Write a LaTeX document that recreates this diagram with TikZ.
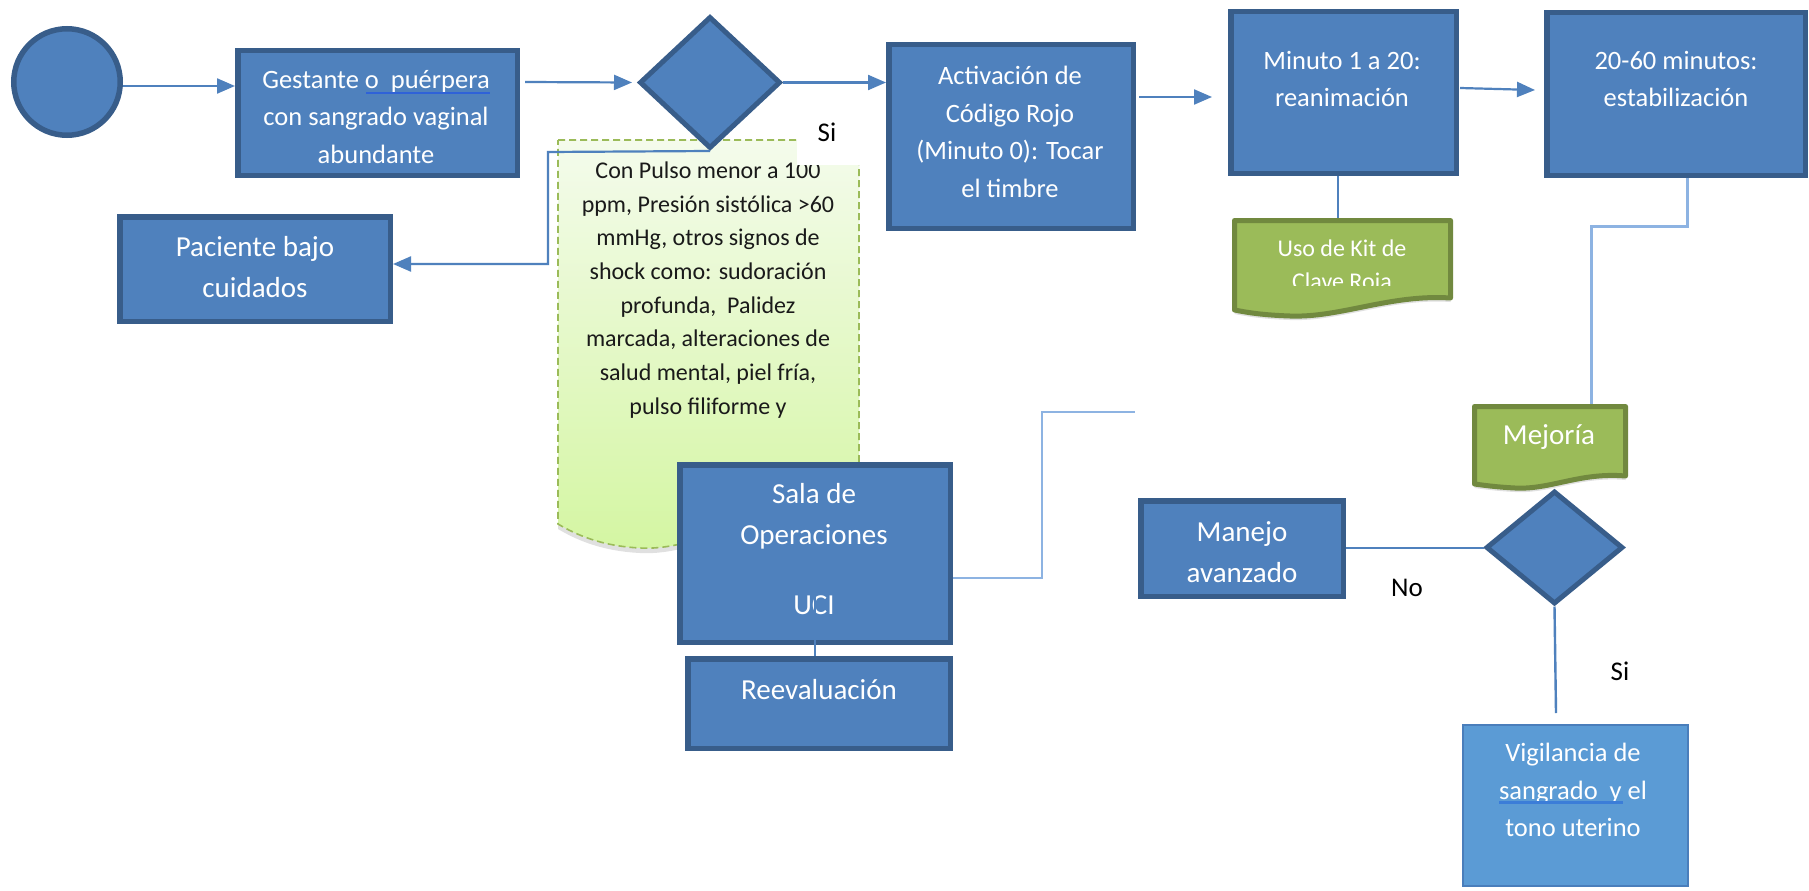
\documentclass[tikz,border=0pt]{standalone}
\usepackage{fontspec}
\setmainfont{Carlito}
\usetikzlibrary{shapes.geometric,arrows.meta,calc}
\definecolor{boxfill}{HTML}{4F81BD}
\definecolor{boxline}{HTML}{385D8A}
\definecolor{docfill}{HTML}{9BBB59}
\definecolor{docline}{HTML}{71893F}
\definecolor{vigfill}{HTML}{5B9BD5}
\definecolor{vigline}{HTML}{4A7EBB}
\definecolor{wire}{HTML}{4F81BD}
\definecolor{wirelight}{HTML}{8DB3E2}
\definecolor{notetop}{HTML}{F4FBEC}
\definecolor{notebot}{HTML}{D4F6A2}
\definecolor{noteline}{HTML}{9BBB59}
\definecolor{notetext}{HTML}{1A1A1A}
\definecolor{squiggle}{HTML}{2F62D8}

\begin{document}
\begin{tikzpicture}[x=1pt,y=-1pt,
  txt/.style={font=\fontsize{26.5}{37.5}\selectfont, text=white, align=center, inner sep=0pt},
  bigtxt/.style={font=\fontsize{29}{41}\selectfont, text=white, align=center, inner sep=0pt},
  kittxt/.style={font=\fontsize{24}{33}\selectfont, text=white, align=center, inner sep=0pt},
  notetxt/.style={font=\fontsize{24}{33.7}\selectfont, text=notetext, align=center, inner sep=0pt},
  yesno/.style={font=\fontsize{27}{32}\selectfont, text=black, inner sep=0pt},
  bluebox/.style={rectangle, draw=boxline, fill=boxfill, line width=5.5pt, inner sep=0pt},
  decision/.style={diamond, draw=boxline, fill=boxfill, line width=5pt, inner sep=0pt},
  doc/.style={draw=docline, fill=docfill, line width=5pt, line join=round},
  callout/.style={draw=noteline, line width=1.6pt, dash pattern=on 7pt off 4pt,
                  top color=notetop, bottom color=notebot},
  wireline/.style={draw=wire, line width=2.2pt},
  arr/.style={wireline, -{Triangle[length=18pt,width=15pt]}},
  softwire/.style={draw=wirelight, line width=3pt},
]
\useasboundingbox (0,0) rectangle (1809,891);
\fill[white] (0,0) rectangle (1809,891);

% ---- green note with the shock criteria
\fill[black!12, yshift=-5pt] (558,140) -- (859,140) -- (859,500)
  .. controls (790,488) and (710,552) .. (640,548)
  .. controls (600,546) and (575,534) .. (558,524) -- cycle;
\path[callout] (558,140) -- (859,140) -- (859,500)
  .. controls (790,488) and (710,552) .. (640,548)
  .. controls (600,546) and (575,534) .. (558,524) -- cycle;
\node[notetxt] (notet) at (708,290) {Con Pulso menor a 100\\ppm, Presión sistólica >60\\mmHg, otros signos de\\shock como: sudoración\\profunda,~~Palidez\\marcada, alteraciones de\\salud mental, piel fría,\\pulso filiforme y};
\node[fill=white, minimum width=65pt, minimum height=65pt, inner sep=0pt] (si1box) at (829.5,132.5) {};
\node[yesno] (si1) at (827,132) {Si};

% ---- start and first row
\node[circle, draw=boxline, fill=boxfill, line width=5.5pt, minimum size=106.5pt, inner sep=0pt] (c0) at (67,82) {};
\node[bluebox, minimum width=279.5pt, minimum height=124.5pt] (b1) at (377.5,113) {};
\node[txt] (b1t) at (376,117) {Gestante o~~puérpera\\con sangrado vaginal\\abundante};
\draw[squiggle, line width=2.5pt] (366,93) -- (490,93);

\node[decision, minimum width=141pt, minimum height=132pt] (d1) at (710,82.5) {};

\node[bluebox, minimum width=244.5pt, minimum height=183.5pt] (act) at (1011,136.5) {};
\node[txt] (actt) at (1010,132) {Activación de\\Código Rojo\\(Minuto 0): Tocar\\el timbre};

\node[bluebox, minimum width=225.5pt, minimum height=161.5pt] (min) at (1343.5,92.5) {};
\node[txt] (mint) at (1342,79) {Minuto 1 a 20:\\reanimación};

\node[bluebox, minimum width=258.5pt, minimum height=162.5pt] (est) at (1676,94) {};
\node[txt] (estt) at (1676,79) {20-60 minutos:\\estabilización};

\node[bluebox, minimum width=270.5pt, minimum height=104.5pt] (pac) at (255,269) {};
\node[bigtxt] (pact) at (255,267.5) {Paciente bajo\\cuidados};

% ---- kit document
\fill[black!12, yshift=-4pt] (1450.5,298) .. controls (1390,294) and (1340,318) .. (1290,316)
  .. controls (1260,315) and (1245,312) .. (1234.5,310) -- (1234.5,300) -- (1450.5,290) -- cycle;
\path[doc] (1234.5,220.5) -- (1450.5,220.5) -- (1450.5,298)
  .. controls (1390,294) and (1340,318) .. (1290,316)
  .. controls (1260,315) and (1245,312) .. (1234.5,310) -- cycle;
\begin{scope}
  \clip (1237,223) rectangle (1448,285);
  \node[kittxt] (kitt) at (1342,267) {Uso de Kit de\\Clave Roja};
\end{scope}
\coordinate (kittop) at (1338,218);

% ---- improvement document and second decision
\fill[black!12, yshift=-4pt] (1625.5,476) .. controls (1580,472) and (1550,490) .. (1515,488)
  .. controls (1495,487) and (1482,485) .. (1474.5,484) -- (1474.5,470) -- (1625.5,466) -- cycle;
\path[doc] (1474.5,406.5) -- (1625.5,406.5) -- (1625.5,476)
  .. controls (1580,472) and (1550,490) .. (1515,488)
  .. controls (1495,487) and (1482,485) .. (1474.5,484) -- cycle;
\node[bigtxt] (mejt) at (1549,437) {Mejoría};
\coordinate (mejtop) at (1591,404);

\node[decision, minimum width=137pt, minimum height=113pt] (d2) at (1554.5,547.5) {};

\node[bluebox, minimum width=202.5pt, minimum height=95.5pt] (man) at (1242,548.5) {};
\node[bigtxt] (mant) at (1242,552.5) {Manejo\\avanzado};

\node[rectangle, draw=vigline, fill=vigfill, line width=2pt, minimum width=225pt, minimum height=161pt, inner sep=0pt] (vig) at (1575.5,805.5) {};
\node[txt] (vigt) at (1573,790) {Vigilancia de\\sangrado~~y el\\tono uterino};
\draw[color={rgb,255:red,59;green,125;blue,216}, line width=3pt] (1499,802) -- (1623,802);

\node[yesno] (no) at (1407,588) {No};
\node[yesno] (si2) at (1620,671) {Si};

% ---- operating room and reassessment
\node[bluebox, minimum width=270.5pt, minimum height=177.5pt] (sala) at (815,553.5) {};
\node[bigtxt] (salat) at (814,516) {Sala de\\Operaciones};
\node[bigtxt] (ucit) at (814,605) {UCI};
\node[bluebox, minimum width=262.5pt, minimum height=89.5pt] (reev) at (819,703.5) {};
\node[bigtxt] (reevt) at (819,690) {Reevaluación};

% ---- connectors
\draw[arr] ([yshift=-4pt]c0.east) -- ([yshift=27pt]b1.west);
\draw[arr] ([xshift=5pt,yshift=31pt]b1.east) -- ([xshift=-5pt]d1.west);
\draw[arr] (d1.east) -- (d1.east -| act.west);
\draw[arr] ([xshift=3pt,yshift=39.5pt]act.east) -- ([xshift=-16pt,yshift=-4.5pt]min.west);
\draw[arr] ([xshift=1pt,yshift=4.5pt]min.east) -- ([xshift=-9pt,yshift=4pt]est.west);

\coordinate (k1) at (548,152);
\draw[arr] (d1.south) -- (k1) |- ([yshift=5pt]pac.east);

\draw[wireline, line width=2pt] ([xshift=-5.5pt]min.south) -- (kittop);
\draw[softwire] ([xshift=11pt]est.south) -- ++(0,48) -| (mejtop);

\draw[wireline, line width=2pt] (d2.west) -- (d2.west -| man.east);
\coordinate (vtop) at (1556,713);
\draw[wireline, line width=2.4pt] (d2.south) -- (vtop);

\coordinate (s1) at (1042,412);
\coordinate (s2) at (1135,412);
\draw[softwire, line width=2.4pt] ([yshift=-24.5pt]sala.east) -| (s1) -- (s2);
\draw[wireline, line width=2pt] ([yshift=-29.5pt]sala.center) -- (sala.center |- reev.north);
\end{tikzpicture}
\end{document}
